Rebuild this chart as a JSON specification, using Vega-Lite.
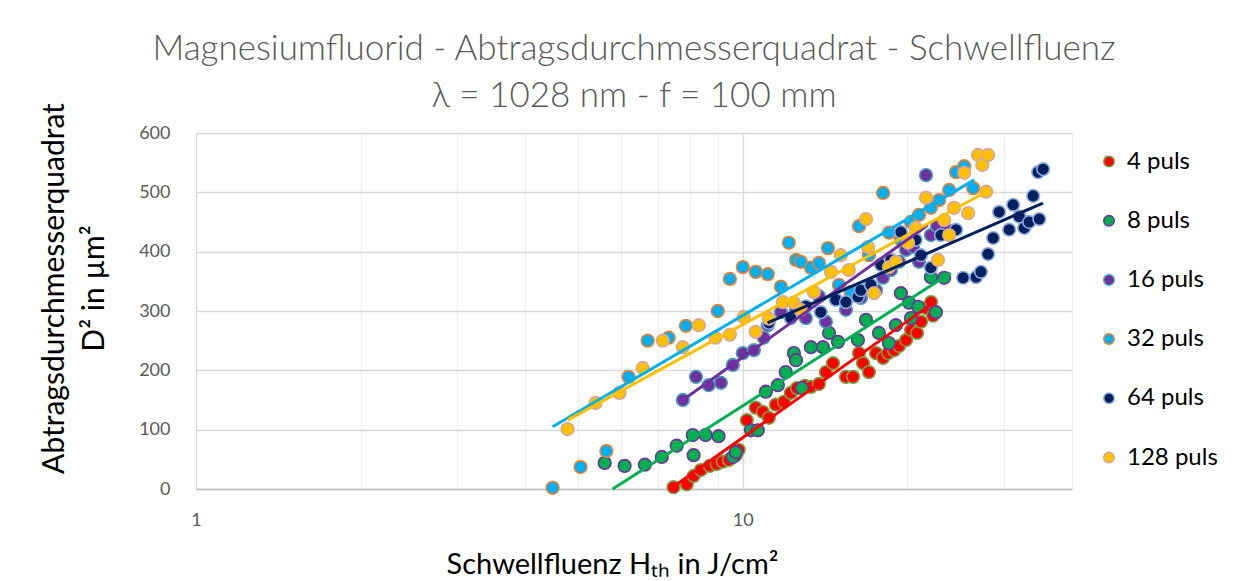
{
 "$schema": "https://vega.github.io/schema/vega-lite/v6.json",
 "width": 876, "height": 356,
 "autosize": {"type": "none"},
 "padding": {"left": 196, "top": 133, "right": 179, "bottom": 92},
 "background": "white",
 "config": {"view": {"stroke": null}, "font": "Lato"},
 "title": {"text": ["Magnesiumfluorid - Abtragsdurchmesserquadrat - Schwellfluenz", "λ = 1028 nm - f = 100 mm"], "font": "Lato", "fontWeight": 300, "fontSize": 35, "color": "#595959", "lineHeight": 47, "anchor": "middle", "offset": -11},
 "datasets": {
  "points": [
   {"series":"4 puls","fluence":7.47,"d2":3},{"series":"4 puls","fluence":7.90,"d2":8},{"series":"4 puls","fluence":8.13,"d2":22},{"series":"4 puls","fluence":8.38,"d2":32},{"series":"4 puls","fluence":8.70,"d2":39},{"series":"4 puls","fluence":8.96,"d2":42},{"series":"4 puls","fluence":9.19,"d2":46},{"series":"4 puls","fluence":9.43,"d2":49},{"series":"4 puls","fluence":9.71,"d2":57},{"series":"4 puls","fluence":9.83,"d2":66},{"series":"4 puls","fluence":10.17,"d2":116},{"series":"4 puls","fluence":10.56,"d2":137},{"series":"4 puls","fluence":10.88,"d2":130},{"series":"4 puls","fluence":11.16,"d2":120},{"series":"4 puls","fluence":11.49,"d2":142},{"series":"4 puls","fluence":11.89,"d2":147},{"series":"4 puls","fluence":12.24,"d2":162},{"series":"4 puls","fluence":12.56,"d2":170},{"series":"4 puls","fluence":12.99,"d2":174},{"series":"4 puls","fluence":13.32,"d2":172},{"series":"4 puls","fluence":13.78,"d2":177},{"series":"4 puls","fluence":14.19,"d2":197},{"series":"4 puls","fluence":14.62,"d2":212},{"series":"4 puls","fluence":15.44,"d2":189},{"series":"4 puls","fluence":15.91,"d2":189},{"series":"4 puls","fluence":16.31,"d2":229},{"series":"4 puls","fluence":16.59,"d2":212},{"series":"4 puls","fluence":17.01,"d2":197},{"series":"4 puls","fluence":17.52,"d2":229},{"series":"4 puls","fluence":18.05,"d2":221},{"series":"4 puls","fluence":18.44,"d2":229},{"series":"4 puls","fluence":18.91,"d2":234},{"series":"4 puls","fluence":19.31,"d2":241},{"series":"4 puls","fluence":19.89,"d2":251},{"series":"4 puls","fluence":20.31,"d2":268},{"series":"4 puls","fluence":20.83,"d2":263},{"series":"4 puls","fluence":21.18,"d2":282},{"series":"4 puls","fluence":21.63,"d2":305},{"series":"4 puls","fluence":22.10,"d2":315},{"series":"4 puls","fluence":22.28,"d2":292},
   {"series":"8 puls","fluence":5.59,"d2":44},{"series":"8 puls","fluence":6.08,"d2":39},{"series":"8 puls","fluence":6.62,"d2":41},{"series":"8 puls","fluence":7.11,"d2":54},{"series":"8 puls","fluence":7.57,"d2":73},{"series":"8 puls","fluence":8.10,"d2":91},{"series":"8 puls","fluence":8.13,"d2":57},{"series":"8 puls","fluence":8.55,"d2":91},{"series":"8 puls","fluence":9.03,"d2":89},{"series":"8 puls","fluence":9.59,"d2":54},{"series":"8 puls","fluence":9.71,"d2":62},{"series":"8 puls","fluence":10.35,"d2":99},{"series":"8 puls","fluence":10.65,"d2":99},{"series":"8 puls","fluence":11.02,"d2":164},{"series":"8 puls","fluence":11.59,"d2":175},{"series":"8 puls","fluence":11.98,"d2":197},{"series":"8 puls","fluence":12.40,"d2":229},{"series":"8 puls","fluence":12.51,"d2":217},{"series":"8 puls","fluence":12.83,"d2":170},{"series":"8 puls","fluence":13.32,"d2":239},{"series":"8 puls","fluence":14.01,"d2":239},{"series":"8 puls","fluence":14.38,"d2":263},{"series":"8 puls","fluence":14.93,"d2":248},{"series":"8 puls","fluence":16.24,"d2":251},{"series":"8 puls","fluence":16.80,"d2":285},{"series":"8 puls","fluence":17.74,"d2":263},{"series":"8 puls","fluence":18.50,"d2":246},{"series":"8 puls","fluence":19.05,"d2":276},{"series":"8 puls","fluence":19.46,"d2":330},{"series":"8 puls","fluence":20.14,"d2":314},{"series":"8 puls","fluence":20.30,"d2":288},{"series":"8 puls","fluence":20.93,"d2":307},{"series":"8 puls","fluence":22.08,"d2":357},{"series":"8 puls","fluence":22.55,"d2":298},{"series":"8 puls","fluence":23.35,"d2":356},
   {"series":"16 puls","fluence":7.77,"d2":150},{"series":"16 puls","fluence":8.21,"d2":189},{"series":"16 puls","fluence":8.66,"d2":175},{"series":"16 puls","fluence":9.12,"d2":179},{"series":"16 puls","fluence":9.59,"d2":209},{"series":"16 puls","fluence":10.00,"d2":229},{"series":"16 puls","fluence":10.48,"d2":234},{"series":"16 puls","fluence":10.92,"d2":255},{"series":"16 puls","fluence":11.11,"d2":276},{"series":"16 puls","fluence":11.74,"d2":298},{"series":"16 puls","fluence":12.51,"d2":302},{"series":"16 puls","fluence":13.04,"d2":288},{"series":"16 puls","fluence":13.78,"d2":325},{"series":"16 puls","fluence":14.19,"d2":282},{"series":"16 puls","fluence":14.79,"d2":319},{"series":"16 puls","fluence":15.44,"d2":302},{"series":"16 puls","fluence":15.91,"d2":332},{"series":"16 puls","fluence":16.44,"d2":322},{"series":"16 puls","fluence":17.01,"d2":339},{"series":"16 puls","fluence":17.52,"d2":335},{"series":"16 puls","fluence":18.05,"d2":356},{"series":"16 puls","fluence":18.66,"d2":369},{"series":"16 puls","fluence":19.31,"d2":383},{"series":"16 puls","fluence":19.89,"d2":403},{"series":"16 puls","fluence":20.48,"d2":408},{"series":"16 puls","fluence":21.00,"d2":383},{"series":"16 puls","fluence":21.63,"d2":529},{"series":"16 puls","fluence":22.08,"d2":428},{"series":"16 puls","fluence":22.66,"d2":443},{"series":"16 puls","fluence":23.63,"d2":437},
   {"series":"32 puls","fluence":4.49,"d2":2},{"series":"32 puls","fluence":5.05,"d2":37},{"series":"32 puls","fluence":5.63,"d2":64},{"series":"32 puls","fluence":6.18,"d2":189},{"series":"32 puls","fluence":6.70,"d2":250},{"series":"32 puls","fluence":7.32,"d2":255},{"series":"32 puls","fluence":7.87,"d2":275},{"series":"32 puls","fluence":9.00,"d2":300},{"series":"32 puls","fluence":9.47,"d2":354},{"series":"32 puls","fluence":10.00,"d2":374},{"series":"32 puls","fluence":10.56,"d2":366},{"series":"32 puls","fluence":11.11,"d2":362},{"series":"32 puls","fluence":11.74,"d2":341},{"series":"32 puls","fluence":12.14,"d2":415},{"series":"32 puls","fluence":12.51,"d2":386},{"series":"32 puls","fluence":12.77,"d2":383},{"series":"32 puls","fluence":13.32,"d2":373},{"series":"32 puls","fluence":13.78,"d2":381},{"series":"32 puls","fluence":14.31,"d2":406},{"series":"32 puls","fluence":14.99,"d2":344},{"series":"32 puls","fluence":15.76,"d2":332},{"series":"32 puls","fluence":16.31,"d2":443},{"series":"32 puls","fluence":17.01,"d2":394},{"series":"32 puls","fluence":18.05,"d2":499},{"series":"32 puls","fluence":18.51,"d2":432},{"series":"32 puls","fluence":19.46,"d2":420},{"series":"32 puls","fluence":20.30,"d2":450},{"series":"32 puls","fluence":21.00,"d2":462},{"series":"32 puls","fluence":22.08,"d2":474},{"series":"32 puls","fluence":22.86,"d2":487},{"series":"32 puls","fluence":23.84,"d2":504},{"series":"32 puls","fluence":24.55,"d2":534},{"series":"32 puls","fluence":25.41,"d2":544},{"series":"32 puls","fluence":26.38,"d2":507},
   {"series":"64 puls","fluence":11.16,"d2":280},{"series":"64 puls","fluence":12.24,"d2":288},{"series":"64 puls","fluence":13.04,"d2":308},{"series":"64 puls","fluence":13.89,"d2":298},{"series":"64 puls","fluence":14.80,"d2":319},{"series":"64 puls","fluence":15.44,"d2":315},{"series":"64 puls","fluence":16.24,"d2":324},{"series":"64 puls","fluence":16.44,"d2":335},{"series":"64 puls","fluence":17.15,"d2":344},{"series":"64 puls","fluence":17.89,"d2":378},{"series":"64 puls","fluence":18.66,"d2":386},{"series":"64 puls","fluence":19.46,"d2":433},{"series":"64 puls","fluence":20.71,"d2":420},{"series":"64 puls","fluence":21.17,"d2":394},{"series":"64 puls","fluence":22.08,"d2":373},{"series":"64 puls","fluence":23.03,"d2":428},{"series":"64 puls","fluence":24.55,"d2":437},{"series":"64 puls","fluence":25.29,"d2":356},{"series":"64 puls","fluence":26.71,"d2":357},{"series":"64 puls","fluence":27.26,"d2":366},{"series":"64 puls","fluence":28.09,"d2":396},{"series":"64 puls","fluence":28.70,"d2":423},{"series":"64 puls","fluence":29.43,"d2":467},{"series":"64 puls","fluence":30.70,"d2":437},{"series":"64 puls","fluence":31.22,"d2":479},{"series":"64 puls","fluence":32.04,"d2":459},{"series":"64 puls","fluence":32.71,"d2":440},{"series":"64 puls","fluence":33.40,"d2":450},{"series":"64 puls","fluence":33.97,"d2":494},{"series":"64 puls","fluence":34.85,"d2":455},{"series":"64 puls","fluence":34.68,"d2":534},{"series":"64 puls","fluence":35.42,"d2":539},
   {"series":"128 puls","fluence":4.78,"d2":101},{"series":"128 puls","fluence":5.38,"d2":145},{"series":"128 puls","fluence":5.95,"d2":162},{"series":"128 puls","fluence":6.56,"d2":204},{"series":"128 puls","fluence":7.14,"d2":250},{"series":"128 puls","fluence":7.77,"d2":239},{"series":"128 puls","fluence":8.31,"d2":276},{"series":"128 puls","fluence":8.91,"d2":255},{"series":"128 puls","fluence":9.47,"d2":260},{"series":"128 puls","fluence":10.04,"d2":290},{"series":"128 puls","fluence":10.56,"d2":265},{"series":"128 puls","fluence":11.16,"d2":287},{"series":"128 puls","fluence":11.84,"d2":315},{"series":"128 puls","fluence":12.40,"d2":314},{"series":"128 puls","fluence":12.77,"d2":302},{"series":"128 puls","fluence":13.49,"d2":332},{"series":"128 puls","fluence":14.49,"d2":366},{"series":"128 puls","fluence":15.11,"d2":394},{"series":"128 puls","fluence":15.63,"d2":369},{"series":"128 puls","fluence":16.80,"d2":455},{"series":"128 puls","fluence":16.94,"d2":408},{"series":"128 puls","fluence":17.38,"d2":330},{"series":"128 puls","fluence":18.51,"d2":374},{"series":"128 puls","fluence":19.05,"d2":383},{"series":"128 puls","fluence":20.06,"d2":415},{"series":"128 puls","fluence":20.71,"d2":440},{"series":"128 puls","fluence":21.63,"d2":491},{"series":"128 puls","fluence":22.75,"d2":386},{"series":"128 puls","fluence":23.35,"d2":453},{"series":"128 puls","fluence":23.84,"d2":428},{"series":"128 puls","fluence":24.35,"d2":474},{"series":"128 puls","fluence":25.41,"d2":533},{"series":"128 puls","fluence":25.83,"d2":465},{"series":"128 puls","fluence":26.93,"d2":563},{"series":"128 puls","fluence":27.41,"d2":546},{"series":"128 puls","fluence":27.87,"d2":501},{"series":"128 puls","fluence":28.09,"d2":563}
  ],
  "trend": [
   {"series":"4 puls","fluence":7.44,"d2":3},{"series":"4 puls","fluence":22.4,"d2":315},
   {"series":"8 puls","fluence":5.78,"d2":0},{"series":"8 puls","fluence":24.0,"d2":364},
   {"series":"16 puls","fluence":7.77,"d2":150},{"series":"16 puls","fluence":21.8,"d2":445},
   {"series":"32 puls","fluence":4.49,"d2":105},{"series":"32 puls","fluence":26.5,"d2":521},
   {"series":"64 puls","fluence":11.1,"d2":280},{"series":"64 puls","fluence":35.4,"d2":482},
   {"series":"128 puls","fluence":4.78,"d2":116},{"series":"128 puls","fluence":27.9,"d2":501}
  ]
 },
 "layer": [
  {
   "data": {"name": "points"},
   "mark": {"type": "circle", "size": 160, "strokeWidth": 1.6, "opacity": 1},
   "encoding": {
    "x": {"field": "fluence", "type": "quantitative", "scale": {"type": "log", "domain": [1, 40], "nice": false},
     "axis": {"values": [1,2,3,4,5,6,7,8,9,10,20,30,40], "labelExpr": "datum.value == 1 || datum.value == 10 ? datum.label : ''", "labelOverlap": false, "labelBound": false, "labelFlush": false,
      "grid": true, "gridColor": {"condition": {"test": "datum.value == 1 || datum.value == 10", "value": "#D9D9D9"}, "value": "#EEEEEE"}, "gridWidth": 1.3,
      "ticks": false, "domainColor": "#BFBFBF", "domainWidth": 1.5,
      "labelFont": "Lato", "labelFontSize": 18, "labelColor": "#595959", "labelPadding": 22,
      "title": "Schwellfluenz Hₜₕ in J/cm²", "titleFont": "Lato", "titleFontSize": 29, "titleFontWeight": "normal", "titleColor": "#000000", "titleX": 416, "titleY": 84, "titleBaseline": "alphabetic", "titleAlign": "center"}},
    "y": {"field": "d2", "type": "quantitative", "scale": {"domain": [0, 600], "nice": false},
     "axis": {"values": [0,100,200,300,400,500,600], "grid": true, "gridColor": "#D9D9D9", "gridWidth": 1.3, "domain": false, "ticks": false,
      "labelFont": "Lato", "labelFontSize": 18, "labelColor": "#595959", "labelPadding": 26,
      "title": ["Abtragsdurchmesserquadrat", "D² in µm²"], "titleFont": "Lato", "titleFontSize": 30, "titleFontWeight": "normal", "titleColor": "#000000", "titleAngle": -90, "titleX": -133, "titleY": 155, "titleBaseline": "alphabetic", "titleAlign": "center", "titleLineHeight": 40}},
    "fill": {"field": "series", "type": "nominal",
     "scale": {"domain": ["4 puls","8 puls","16 puls","32 puls","64 puls","128 puls"], "range": ["#FF0000","#00B050","#7030A0","#00B0F0","#002060","#FFC000"]},
     "legend": {"orient": "none", "legendX": 901, "legendY": 16.5, "title": null, "labelFont": "Lato", "labelFontSize": 24, "labelColor": "#000000", "symbolSize": 110, "symbolStrokeWidth": 1.5, "symbolType": "circle", "rowPadding": 35.2, "labelOffset": 6}},
    "stroke": {"field": "series", "type": "nominal",
     "scale": {"domain": ["4 puls","8 puls","16 puls","32 puls","64 puls","128 puls"], "range": ["#77A043","#7030A0","#4A9BB5","#ED7D31","#8FAADC","#D4A5A5"]},
     "legend": {"orient": "none", "legendX": 901, "legendY": 16.5, "title": null, "labelFont": "Lato", "labelFontSize": 24, "labelColor": "#000000", "symbolSize": 110, "symbolStrokeWidth": 1.5, "symbolType": "circle", "rowPadding": 35.2, "labelOffset": 6}}
   }
  },
  {
   "data": {"name": "trend"},
   "mark": {"type": "line", "strokeWidth": 3},
   "encoding": {
    "x": {"field": "fluence", "type": "quantitative"},
    "y": {"field": "d2", "type": "quantitative"},
    "color": {"field": "series", "type": "nominal",
     "scale": {"domain": ["4 puls","8 puls","16 puls","32 puls","64 puls","128 puls"], "range": ["#FF0000","#00B050","#7030A0","#00B0F0","#002060","#FFC000"]},
     "legend": null}
   }
  }
 ]
}
